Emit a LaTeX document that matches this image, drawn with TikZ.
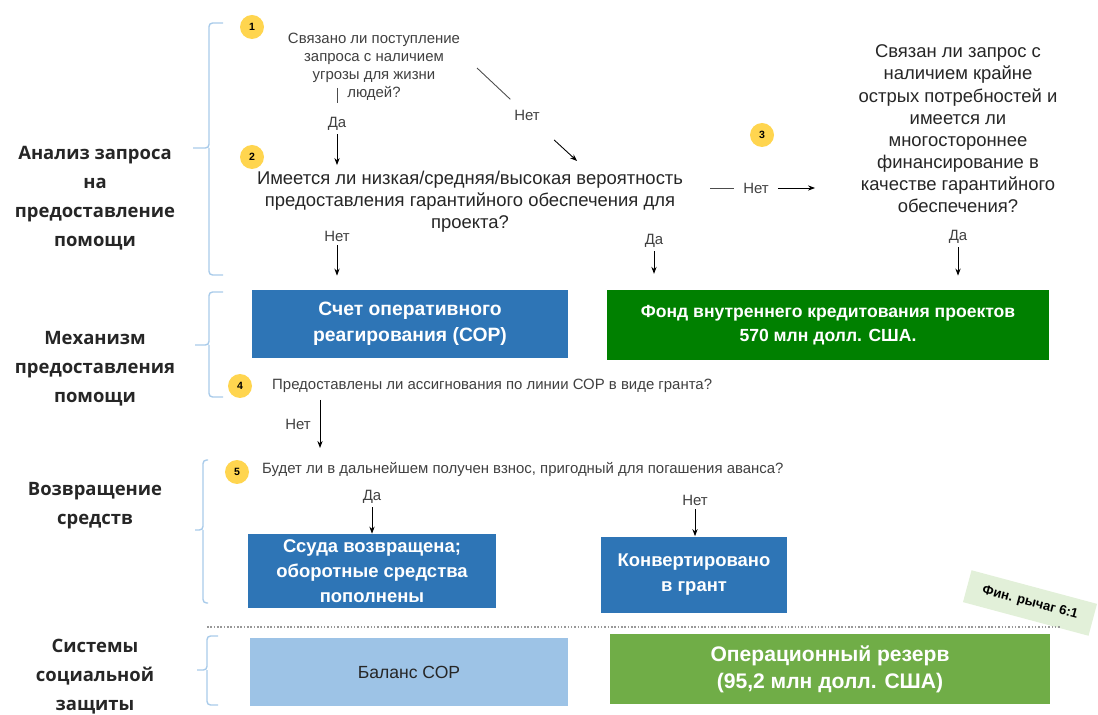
\documentclass[tikz,border=0pt]{standalone}
\usepackage{fontspec}
\setmainfont{Liberation Sans}
\newfontfamily\headfont{Open Sans}
\usetikzlibrary{arrows.meta,calc}

\definecolor{corblue}{HTML}{2E75B6}
\definecolor{fundgreen}{HTML}{008000}
\definecolor{balblue}{HTML}{9DC3E6}
\definecolor{resgreen}{HTML}{70AD47}
\definecolor{braceblue}{HTML}{A9CBEA}
\definecolor{numyellow}{HTML}{FFD54F}
\definecolor{levgreen}{HTML}{E2F0D9}
\definecolor{qgray}{HTML}{404040}

\tikzset{
  arr/.style={-{Stealth[length=4pt,width=3pt]},black,line width=0.5pt},
  plain/.style={black!70,line width=0.5pt},
  brc/.style={draw=braceblue,line width=0.8pt,rounded corners=2pt},
  numdot/.style={circle,fill=numyellow,minimum size=0.48cm,inner sep=0pt,font=\bfseries\fontsize{6}{7}\selectfont},
  sidelbl/.style={align=center,text=black!85,font=\headfont\bfseries\fontsize{10.5}{16.5}\selectfont},
  smallq/.style={align=center,text=qgray,font=\fontsize{8.5}{10.3}\selectfont},
  bigq/.style={align=center,text=black!85,font=\fontsize{10.5}{12.6}\selectfont},
  ans/.style={text=qgray,font=\fontsize{8.5}{10}\selectfont,inner sep=2pt},
  fillbox/.style={align=center,inner sep=0pt,font=\bfseries\fontsize{11}{14.8}\selectfont}
}

\begin{document}
\begin{tikzpicture}[x=0.02cm,y=-0.02cm]
  \useasboundingbox (0,0) rectangle (1098,715);

  % left side labels and braces
  \node[sidelbl] (sl1) at (95,198) {Анализ запроса\\на\\предоставление\\помощи};
  \node[sidelbl] (sl2) at (95,369) {Механизм\\предоставления\\помощи};
  \node[sidelbl] (sl3) at (95,506) {Возвращение\\средств};
  \node[sidelbl] (sl4) at (95,677) {Системы\\социальной\\защиты};
  \draw[brc] (223,23) -- (209,23) -- (209,148) -- (193,148) (209,148) -- (209,275) -- (223,275);
  \draw[brc] (223,292) -- (209,292) -- (209,345) -- (195,345) (209,345) -- (209,397) -- (223,397);
  \draw[brc] (208,460) -- (203,460) -- (203,530) -- (195,530) (203,530) -- (203,603) -- (208,603);
  \draw[brc] (218,636) -- (207,636) -- (207,670) -- (197,670) (207,670) -- (207,705) -- (218,705);

  % step markers
  \node[numdot] (n1) at (252,27) {1};
  \node[numdot] (n2) at (252,157) {2};
  \node[numdot] (n3) at (762,135) {3};
  \node[numdot] (n4) at (240,386) {4};
  \node[numdot] (n5) at (237,472) {5};

  % questions
  \node[smallq] (q1) at (374,67) {Связано ли поступление\\запроса с наличием\\угрозы для жизни\\людей?};
  \node[bigq] (q2) at (470,202) {Имеется ли низкая/средняя/высокая вероятность\\предоставления гарантийного обеспечения для\\проекта?};
  \node[bigq] (q3) at (958,129) {Связан ли запрос с\\наличием крайне\\острых потребностей и\\имеется ли\\многостороннее\\финансирование в\\качестве гарантийного\\обеспечения?};
  \node[smallq,anchor=west] (q4) at (266,386) {Предоставлены ли ассигнования по линии СОР в виде гранта?};
  \node[smallq,anchor=west] (q5) at (256,470) {Будет ли в дальнейшем получен взнос, пригодный для погашения аванса?};

  % boxes
  \node[fillbox,fill=corblue,text=white,minimum width=6.32cm,minimum height=1.36cm] (cor) at (410,324) {Счет оперативного\\реагирования (СОР)};
  \node[fillbox,fill=fundgreen,text=white,minimum width=8.86cm,minimum height=1.4cm,font=\bfseries\fontsize{10}{13.7}\selectfont] (fund) at (828,325) {Фонд внутреннего кредитования проектов\\570 млн долл. США.};
  \node[fillbox,fill=corblue,text=white,minimum width=4.98cm,minimum height=1.48cm,font=\bfseries\fontsize{10.5}{14.2}\selectfont] (loan) at (372,571) {Ссуда возвращена;\\оборотные средства\\пополнены};
  \node[fillbox,fill=corblue,text=white,minimum width=3.74cm,minimum height=1.54cm,font=\bfseries\fontsize{10.5}{14.2}\selectfont] (grant) at (694,575) {Конвертировано\\в грант};
  \node[fillbox,fill=balblue,text=black!85,minimum width=6.36cm,minimum height=1.36cm,font=\fontsize{10}{12}\selectfont] (bal) at (409,672) {Баланс СОР};
  \node[fillbox,fill=resgreen,text=white,minimum width=8.8cm,minimum height=1.42cm,font=\bfseries\fontsize{12}{15.4}\selectfont] (res) at (830,669) {Операционный резерв\\(95,2 млн долл. США)};
  \node[fill=levgreen,rotate=-15,inner xsep=9pt,inner ysep=6pt,font=\bfseries\fontsize{7.5}{9}\selectfont] (lev) at (1030,603) {Фин. рычаг 6:1};

  \draw[gray!80,densely dotted,line width=0.9pt] (207,627) -- (1060,627);

  % answers
  \node[ans] (da1) at (337,124) {Да};
  \node[ans] (net1) at (527,115) {Нет};
  \node[ans] (net2) at (337,236) {Нет};
  \node[ans] (da2) at (654,241) {Да};
  \node[ans] (net3) at (756,188) {Нет};
  \node[ans] (da3) at (958,237) {Да};
  \node[ans] (net4) at (298,424) {Нет};
  \node[ans] (da5) at (372,497) {Да};
  \node[ans] (net5) at (695,500) {Нет};

  % connectors
  \coordinate (q1d) at (337,88);
  \coordinate (q1r) at (477,68);
  \coordinate (q2in) at (577,161);
  \coordinate (q2r) at (710,188);
  \coordinate (q3in) at (815,188);
  \coordinate (q4d) at (320,400);
  \coordinate (q5u) at (320,448);
  \draw[plain,shorten >=6pt] (q1d) -- (da1);
  \draw[arr] (da1) -- (da1 |- q2.north);
  \draw[plain,shorten >=13pt] (q1r) -- (net1.center);
  \draw[arr,shorten <=21pt] (net1.center) -- (q2in);
  \draw[arr,shorten >=8pt] (net2) -- (net2 |- cor.north);
  \draw[arr,shorten >=9pt] (da2) -- (da2 |- fund.north);
  \draw[plain,shorten >=3pt] (q2r) -- (net3);
  \draw[arr,shorten <=3pt] (net3) -- (q3in);
  \draw[arr,shorten >=8pt] (da3) -- (da3 |- fund.north);
  \draw[arr] (q4d) -- (q5u);
  \draw[arr] (da5) -- (da5 |- loan.north);
  \draw[arr] (net5) -- (net5 |- grant.north);
\end{tikzpicture}
\end{document}
